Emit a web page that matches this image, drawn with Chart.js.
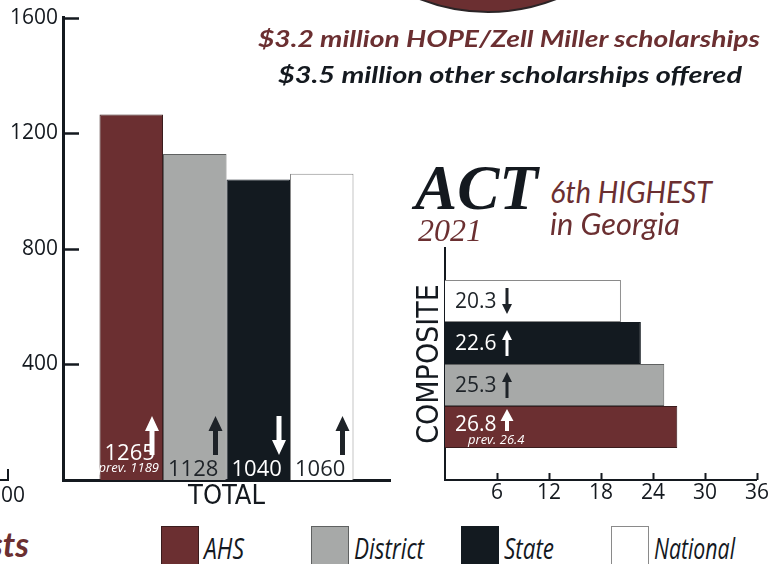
<!DOCTYPE html>
<html>
<head>
<meta charset="utf-8">
<title>SAT and ACT 2021</title>
<script src="https://cdn.jsdelivr.net/npm/chart.js@4.4.1/dist/chart.umd.min.js"></script>
<style>
  body { margin: 0; background: #fff; }
  #page { position: relative; width: 769px; height: 564px; overflow: hidden; background: #fff; }
  .t { position: absolute; white-space: nowrap; line-height: 1; transform-origin: 0 0; z-index: 2; }
  .maroon { color: #6b2f31; }
  .ink { color: #14191f; }
  .head { font: italic 700 23px Lato, sans-serif; }
  .seal { position: absolute; left: 301px; top: -361px; width: 370px; height: 370px;
          border-radius: 50%; background: #6b2f31; border: 2px solid #2b2426; }
  .box { position: absolute; }
  #satBox { left: 0; top: 0; width: 400px; height: 520px; }
  #actBox { left: 400px; top: 230px; width: 369px; height: 290px; }
  .swatch { position: absolute; top: 526px; width: 38px; height: 40px; box-sizing: border-box; border: 1px solid; }
  .legtext { font: italic 400 29px "Open Sans", sans-serif; color: #14191f; top: 528px; }
  .frag { position: absolute; left: -10px; top: 469px; width: 17px; height: 10px;
          border-right: 2px solid #14191f; border-bottom: 2px solid #14191f; }
</style>
</head>
<body>
<div id="page">
  <div class="seal"></div>

  <div class="t head maroon" style="left:258px; top:24px" data-w="502">$3.2 million HOPE/Zell Miller scholarships</div>
  <div class="t head ink" style="left:278px; top:60px" data-w="464">$3.5 million other scholarships offered</div>

  <div class="t ink" style="left:415px; top:152px; font: italic 700 63px 'Liberation Serif', serif" data-w="123">ACT</div>
  <div class="t maroon" style="left:418px; top:212px; font: italic 400 32px 'Liberation Serif', serif" data-w="64">2021</div>
  <div class="t maroon" style="left:550px; top:173px; font: italic 400 30px Lato, sans-serif" data-w="162">6th HIGHEST</div>
  <div class="t maroon" style="left:550px; top:205px; font: italic 400 30px Lato, sans-serif" data-w="130">in Georgia</div>

  <div class="t maroon" style="right:740px; top:523px; font: italic 700 34px Lato, sans-serif">sts</div>
  <div class="t ink" style="right:744px; top:480px; font: 400 21px 'Open Sans', sans-serif">800</div>
  <div class="frag"></div>

  <div class="box" id="satBox"><canvas id="satChart"></canvas></div>
  <div class="box" id="actBox"><canvas id="actChart"></canvas></div>
  <div id="legend"></div>
</div>

<script>
// ---- data ----
const groups = ['AHS', 'District', 'State', 'National'];

const satCategory = ['TOTAL'];
const satScores = [1265, 1128, 1040, 1060];
const satTrend = ['up', 'up', 'down', 'up'];
const satPrev = [1189, null, null, null];
const satTicks = [400, 800, 1200, 1600];

const actCategory = ['COMPOSITE'];
const actScores = [26.8, 25.3, 22.6, 20.3];
const actTrend = ['up', 'up', 'up', 'down'];
const actPrev = [26.4, null, null, null];
const actTicks = [6, 12, 18, 24, 30, 36];

// ---- styles ----
const INK = '#14191f';
const fills = ['#6b2f31', '#a7a9a8', '#131a20', '#ffffff'];
const edges = ['#3a1c1d', '#5f6161', '#131a20', '#8a8a8a'];
const inks = ['#ffffff', '#1e2328', '#ffffff', '#1e2328'];
const legendLeft = [161, 311, 461, 611];
const legendWidth = [40, 70, 50, 81];

function drawArrow(ctx, x, top, bottom, dir, color, headW, headH, shaftW) {
  const tip = dir === 'up' ? top : bottom;
  const tail = dir === 'up' ? bottom : top;
  const s = dir === 'up' ? 1 : -1;
  ctx.save();
  ctx.fillStyle = color;
  ctx.beginPath();
  ctx.moveTo(x, tip);
  ctx.lineTo(x + headW / 2, tip + s * headH);
  ctx.lineTo(x + shaftW / 2, tip + s * headH);
  ctx.lineTo(x + shaftW / 2, tail);
  ctx.lineTo(x - shaftW / 2, tail);
  ctx.lineTo(x - shaftW / 2, tip + s * headH);
  ctx.lineTo(x - headW / 2, tip + s * headH);
  ctx.closePath();
  ctx.fill();
  ctx.restore();
}

// labels, arrows and inner tick marks for the SAT chart
const satMarks = {
  id: 'satMarks',
  afterDatasetsDraw(chart) {
    const ctx = chart.ctx;
    chart.data.datasets.forEach((ds, i) => {
      const bar = chart.getDatasetMeta(i).data[0];
      const { x, base, width } = bar.getProps(['x', 'base', 'width'], true);
      const left = x - width / 2, right = x + width / 2;
      ctx.save();
      ctx.fillStyle = inks[i];
      ctx.textBaseline = 'alphabetic';
      ctx.textAlign = 'left';
      ctx.font = '22px "Open Sans"';
      if (satPrev[i] != null) {
        ctx.fillText(String(satScores[i]), left + 5, base - 20);
        ctx.font = 'italic 13px "Open Sans"';
        ctx.textAlign = 'right';
        ctx.fillText('prev. ' + satPrev[i], right - 4, base - 8);
      } else {
        ctx.fillText(String(satScores[i]), left + 5, base - 4);
      }
      ctx.restore();
      drawArrow(ctx, right - 11, base - 64, base - 25, satTrend[i], inks[i], 14, 15, 5);
    });
  },
  afterDraw(chart) {
    const { ctx, chartArea } = chart;
    const ys = chart.scales.y;
    ctx.save();
    ctx.strokeStyle = INK;
    ctx.lineWidth = 2.5;
    satTicks.forEach(v => {
      const py = Math.round(ys.getPixelForValue(v)) + 0.5;
      ctx.beginPath();
      ctx.moveTo(chartArea.left, py);
      ctx.lineTo(chartArea.left + 16, py);
      ctx.stroke();
    });
    ctx.restore();
  }
};

// labels, arrows and inner tick marks for the ACT chart
const actMarks = {
  id: 'actMarks',
  afterDatasetsDraw(chart) {
    const ctx = chart.ctx;
    chart.data.datasets.forEach((ds, d) => {
      const g = ds.group;
      const bar = chart.getDatasetMeta(d).data[0];
      const { y, base, height } = bar.getProps(['y', 'base', 'height'], true);
      const top = y - height / 2, bottom = y + height / 2;
      ctx.save();
      ctx.fillStyle = inks[g];
      ctx.textAlign = 'left';
      ctx.font = '21px "Open Sans"';
      if (actPrev[g] != null) {
        ctx.textBaseline = 'alphabetic';
        ctx.fillText(actScores[g].toFixed(1), base + 10, bottom - 17);
        ctx.font = 'italic 13px "Open Sans"';
        ctx.fillText('prev. ' + actPrev[g].toFixed(1), base + 23, bottom - 4);
        ctx.restore();
        drawArrow(ctx, base + 62, top + 3, bottom - 17, actTrend[g], inks[g], 13, 12, 4);
      } else {
        ctx.textBaseline = 'middle';
        ctx.fillText(actScores[g].toFixed(1), base + 10, y + 1);
        ctx.restore();
        drawArrow(ctx, base + 62, top + 8, bottom - 8, actTrend[g], inks[g], 10, 10, 3);
      }
    });
  },
  afterDraw(chart) {
    const { ctx, chartArea } = chart;
    const xs = chart.scales.x;
    ctx.save();
    ctx.strokeStyle = INK;
    ctx.lineWidth = 2;
    actTicks.forEach(v => {
      const px = Math.round(xs.getPixelForValue(v)) + 0.5;
      ctx.beginPath();
      ctx.moveTo(px, chartArea.bottom);
      ctx.lineTo(px, chartArea.bottom - 7);
      ctx.stroke();
    });
    ctx.restore();
  }
};

new Chart(document.getElementById('satChart'), {
  type: 'bar',
  data: {
    labels: satCategory,
    datasets: groups.map((g, i) => ({
      label: g,
      data: [satScores[i]],
      backgroundColor: fills[i],
      borderColor: edges[i],
      borderWidth: 1
    }))
  },
  options: {
    responsive: true,
    maintainAspectRatio: false,
    animation: false,
    layout: { padding: { top: 15, right: 10, left: 0, bottom: 0 } },
    datasets: { bar: { categoryPercentage: 254 / 327, barPercentage: 1 } },
    plugins: { legend: { display: false }, tooltip: { enabled: false } },
    scales: {
      x: {
        grid: { display: false, drawTicks: false },
        border: { color: INK, width: 3 },
        ticks: { color: INK, padding: 1, font: { family: 'DejaVu Sans Condensed', size: 27 } },
        afterFit: s => { s.height = 40; }
      },
      y: {
        min: 0,
        max: 1600,
        afterBuildTicks: s => { s.ticks = satTicks.map(v => ({ value: v })); },
        grid: { display: false, drawTicks: false },
        border: { color: INK, width: 3 },
        ticks: { color: INK, padding: 5, font: { family: 'Open Sans', size: 21 }, callback: v => String(v) },
        afterFit: s => { s.width = 63; }
      }
    }
  },
  plugins: [satMarks]
});

// ACT bars run National (top) down to AHS (bottom)
const actOrder = [3, 2, 1, 0];

new Chart(document.getElementById('actChart'), {
  type: 'bar',
  data: {
    labels: actCategory,
    datasets: actOrder.map(i => ({
      label: groups[i],
      group: i,
      data: [actScores[i]],
      backgroundColor: fills[i],
      borderColor: edges[i],
      borderWidth: 1
    }))
  },
  options: {
    indexAxis: 'y',
    responsive: true,
    maintainAspectRatio: false,
    animation: false,
    layout: { padding: { top: 18, right: 12, left: 0, bottom: 0 } },
    datasets: { bar: { categoryPercentage: 168 / 232, barPercentage: 1 } },
    plugins: { legend: { display: false }, tooltip: { enabled: false } },
    scales: {
      x: {
        min: 0,
        max: 36,
        afterBuildTicks: s => { s.ticks = actTicks.map(v => ({ value: v })); },
        grid: { display: false, drawTicks: false },
        border: { color: INK, width: 2 },
        ticks: { color: INK, padding: 0, font: { family: 'Open Sans', size: 21 }, callback: v => String(v) },
        afterFit: s => { s.height = 40; }
      },
      y: {
        grid: { display: false, drawTicks: false },
        border: { color: INK, width: 2 },
        ticks: { display: false },
        title: {
          display: true,
          text: actCategory[0],
          color: INK,
          padding: { top: 12, bottom: 0 },
          font: { family: 'DejaVu Sans Condensed', size: 30 }
        },
        afterFit: s => { s.width = 45; }
      }
    }
  },
  plugins: [actMarks]
});

// legend
const legend = document.getElementById('legend');
groups.forEach((g, i) => {
  const sw = document.createElement('div');
  sw.className = 'swatch';
  sw.style.left = legendLeft[i] + 'px';
  sw.style.background = fills[i];
  sw.style.borderColor = edges[i];
  legend.appendChild(sw);
  const tx = document.createElement('div');
  tx.className = 't legtext';
  tx.style.left = (legendLeft[i] + 43) + 'px';
  tx.dataset.w = legendWidth[i];
  tx.textContent = g;
  legend.appendChild(tx);
});

// squeeze text to the widths of the narrow original typeface
function fitText() {
  document.querySelectorAll('[data-w]').forEach(el => {
    el.style.transform = '';
    const w = el.getBoundingClientRect().width;
    if (w > 0) el.style.transform = 'scaleX(' + (el.dataset.w / w) + ')';
  });
}
fitText();
if (document.fonts) document.fonts.ready.then(fitText);
</script>
</body>
</html>
